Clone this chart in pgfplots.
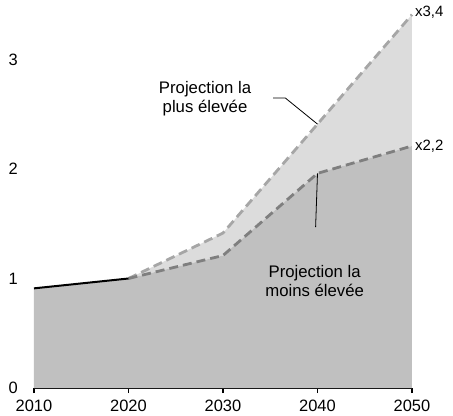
\documentclass[border=0pt]{standalone}
\usepackage{pgfplots}
\pgfplotsset{compat=1.18}
\usepackage{fontspec}
\setmainfont{Liberation Sans}
\definecolor{upfill}{HTML}{DCDCDC}
\definecolor{lowfill}{HTML}{C0C0C0}
\definecolor{updash}{HTML}{A6A6A6}
\definecolor{lowdash}{HTML}{7F7F7F}
\begin{document}
\begin{tikzpicture}[x=1bp,y=1bp]
\begin{axis}[
  at={(0,0)}, anchor=origin,
  scale only axis, width=378bp, height=383.25bp,
  xmin=2010, xmax=2050, ymin=0, ymax=3.5,
  axis x line*=bottom, axis y line=none,
  xtick={2010,2020,2030,2040,2050},
  ytick=\empty,
  x tick label style={/pgf/number format/1000 sep={}, yshift=-4bp},
  tick align=outside, major tick length=5bp,
  x axis line style={line width=2.2bp, -},
  every tick/.style={black, line width=1.8bp},
  /pgf/number format/assume math mode=true,
  ticklabel style={font=\fontsize{16.5}{19}\selectfont},
  clip=false,
]
\addplot[fill=upfill, draw=none] coordinates {(2020,1.0) (2030,1.415) (2040,2.41) (2050,3.41) (2050,2.21) (2040,1.96) (2030,1.21) (2020,1.0)} -- cycle;
\addplot[fill=lowfill, draw=none] coordinates {(2010,0) (2010,0.91) (2020,1.0) (2030,1.21) (2040,1.96) (2050,2.21) (2050,0)} -- cycle;
\addplot[updash, line width=2.8bp, dash pattern=on 9bp off 5bp] coordinates {(2020,1.0) (2030,1.415) (2040,2.41) (2050,3.41)};
\addplot[lowdash, line width=2.8bp, dash pattern=on 9bp off 5bp] coordinates {(2020,1.0) (2030,1.21) (2040,1.96) (2050,2.21)};
\addplot[black, line width=2bp] coordinates {(2010,0.91) (2020,1.0)};
\addplot[black, line width=0.8bp] coordinates {(2035.3,2.648) (2036.6,2.648) (2040,2.41)};
\addplot[black, line width=0.8bp] coordinates {(2039.8,1.47) (2040,1.96)};
\node[font=\fontsize{16.8}{19}\selectfont, align=center] at (axis cs:2028.1,2.64) {Projection la\\plus élevée};
\node[font=\fontsize{16.8}{19}\selectfont, align=center] at (axis cs:2039.7,0.98) {Projection la\\moins élevée};
\node[font=\fontsize{15}{18}\selectfont, anchor=west, inner sep=3bp] at (axis cs:2050,3.43) {x3,4};
\node[font=\fontsize{15}{18}\selectfont, anchor=west, inner sep=3bp] at (axis cs:2050,2.21) {x2,2};
\node[font=\fontsize{16.5}{19}\selectfont, anchor=east, inner sep=0pt, xshift=-16bp] at (axis cs:2010,0) {0};
\node[font=\fontsize{16.5}{19}\selectfont, anchor=east, inner sep=0pt, xshift=-16bp] at (axis cs:2010,1) {1};
\node[font=\fontsize{16.5}{19}\selectfont, anchor=east, inner sep=0pt, xshift=-16bp] at (axis cs:2010,2) {2};
\node[font=\fontsize{16.5}{19}\selectfont, anchor=east, inner sep=0pt, xshift=-16bp] at (axis cs:2010,3) {3};
\end{axis}
\useasboundingbox (-34bp,-28bp) rectangle (419bp,388bp);
\end{tikzpicture}
\end{document}
